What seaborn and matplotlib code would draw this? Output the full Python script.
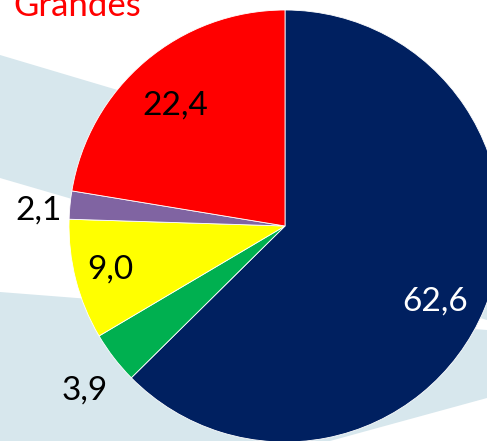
import matplotlib
matplotlib.use("Agg")
import matplotlib.pyplot as plt
import seaborn as sns
import numpy as np
from matplotlib.patches import Polygon

sns.set_theme(style="white")
plt.rcParams['font.family'] = ['Lato', 'DejaVu Sans']

title = "Grandes"
values = [62.6, 3.9, 9.0, 2.1, 22.4]
labels = ["62,6", "3,9", "9,0", "2,1", "22,4"]
colors = ["#002060", "#00B050", "#FFFF00", "#8064A2", "#FF0000"]
label_colors = ["white", "black", "black", "black", "black"]
label_dist = [0.78, 1.20, 0.835, 1.145, 0.757]
label_dang = [-4.0, 1.7, -0.3, 1.9, 2.0]

W, H = 487, 441
fig = plt.figure(figsize=(W / 100, H / 100), dpi=100)
fig.patch.set_facecolor("white")

# decorative light-blue background bands (pixel coords in a background axes)
bg = fig.add_axes([0, 0, 1, 1], zorder=0)
bg.set_xlim(0, W)
bg.set_ylim(H, 0)
bg.axis("off")
band_col = "#d7e7ed"
bg.add_patch(Polygon([(0, 55), (487, 200), (487, 320), (0, 178)], closed=True,
                     facecolor=band_col, edgecolor="none"))
bg.add_patch(Polygon([(0, 292), (487, 330), (487, 398), (330, 441), (0, 441)],
                     closed=True, facecolor=band_col, edgecolor="none"))

ax = fig.add_axes([0, 0, 1, 1], zorder=1)
ax.set_facecolor("none")
cx, cy, R = 285, 226, 216

wedges, _ = ax.pie(values, colors=colors, startangle=90, counterclock=False,
                   radius=1.0, wedgeprops=dict(edgecolor="white", linewidth=0.6))
ax.set_xlim((0 - cx) / R, (W - cx) / R)
ax.set_ylim((cy - H) / R, cy / R)
ax.set_aspect("equal")
ax.axis("off")

for w, lab, c, d, da in zip(wedges, labels, label_colors, label_dist, label_dang):
    ang = np.deg2rad((w.theta1 + w.theta2) / 2 + da)
    ax.text(d * np.cos(ang), d * np.sin(ang), lab, ha="center", va="center",
            fontsize=24, color=c)

fig.text(13 / W, 1 - 16 / H, title, color="#FF0000", fontsize=25,
         ha="left", va="baseline", zorder=3)

fig.savefig("out.png", dpi=100)
